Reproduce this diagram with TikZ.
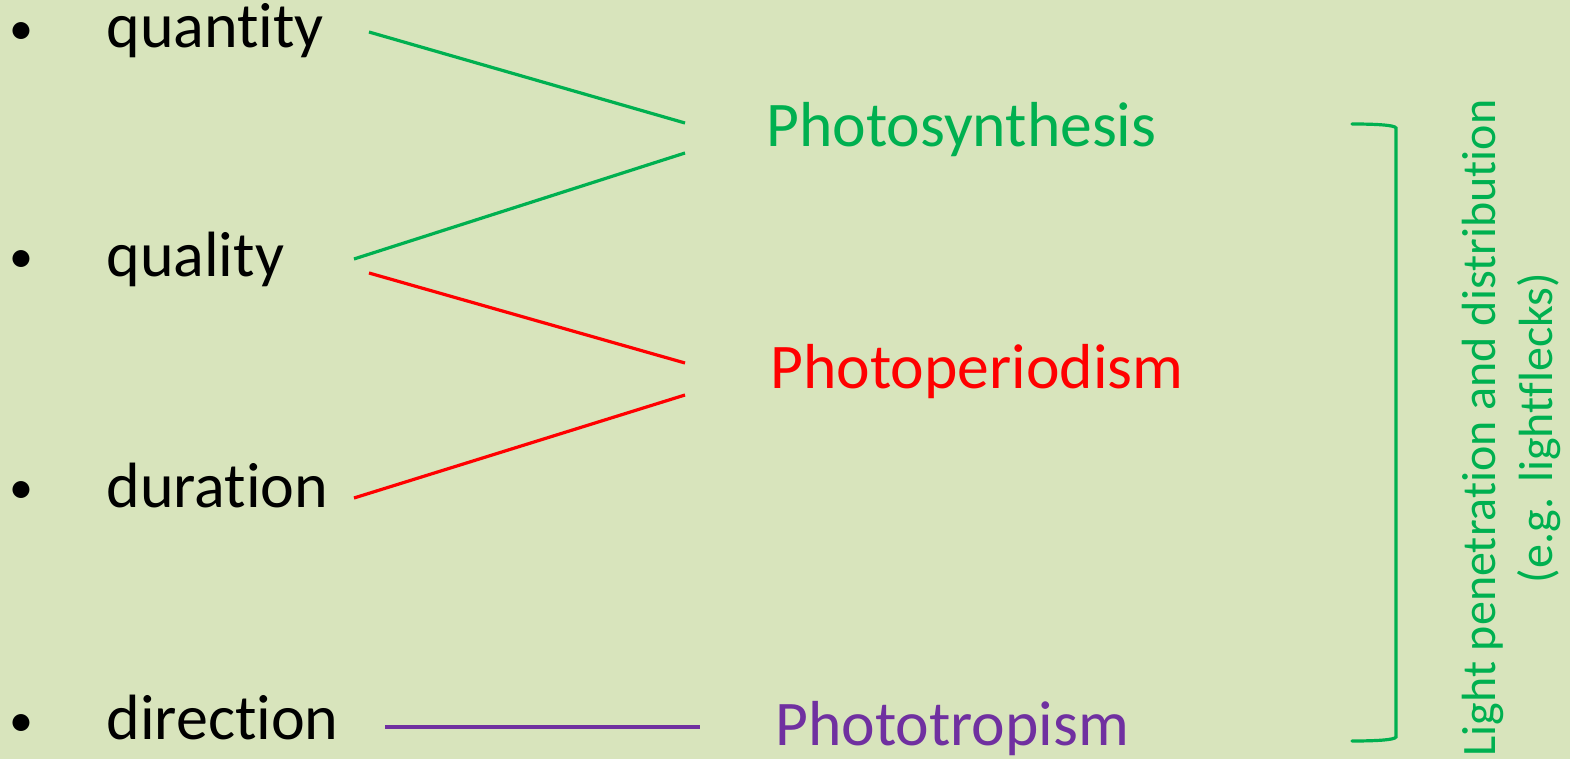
\documentclass[tikz,border=0pt]{standalone}
\usepackage{fontspec}
\setmainfont{Carlito}[Ligatures={NoCommon,NoRequired,NoContextual}]
\definecolor{bg}{HTML}{D8E4BC}
\definecolor{pgreen}{HTML}{00B050}
\definecolor{pred}{HTML}{FF0000}
\definecolor{ppurple}{HTML}{7030A0}
\begin{document}
\begin{tikzpicture}[x=0.5pt,y=-0.5pt,
  item/.style={anchor=base west,inner sep=0pt,font=\fontsize{32}{38}\selectfont},
  bul/.style={anchor=base,inner sep=0pt,font=\fontsize{24}{28}\selectfont},
  effect/.style={anchor=base west,inner sep=0pt,font=\fontsize{31.8}{38}\selectfont},
  conn/.style={line width=1.6pt}]
\fill[bg] (0,0) rectangle (1570,759);
\useasboundingbox (0,0) rectangle (1570,759);
% bullets and items
\node[bul] (b1) at (21,45) {•};
\node[bul] (b2) at (21,273) {•};
\node[bul] (b3) at (21,503) {•};
\node[bul] (b4) at (21,736) {•};
\node[item] (quantity) at (106,48) {quantity};
\node[item] (quality) at (106,277) {quality};
\node[item] (duration) at (106,507) {duration};
\node[item] (direction) at (106,739) {direction};
% effects
\node[effect,text=pgreen] (photosyn) at (766,147) {Photosynthesis};
\node[effect,text=pred] (photoper) at (770,389) {Photoperiodism};
\node[effect,text=ppurple] (phototro) at (775,745) {Phototropism};
% connector ends
\coordinate (qa) at (369,32);
\coordinate (ps1) at (685,123);
\coordinate (ql1) at (354,259);
\coordinate (ps2) at (685,153);
\coordinate (ql2) at (369,273);
\coordinate (pp1) at (685,363);
\coordinate (du) at (354,498);
\coordinate (pp2) at (685,395);
\coordinate (di) at (385,727);
\coordinate (pt) at (700,727);
\draw[conn,pgreen] (qa) -- (ps1);
\draw[conn,pgreen] (ql1) -- (ps2);
\draw[conn,pred] (ql2) -- (pp1);
\draw[conn,pred] (du) -- (pp2);
\draw[conn,ppurple] (di) -- (pt);
% bracket
\coordinate (bt) at (1352,124);
\coordinate (bb) at (1352,741);
\draw[conn,pgreen,line cap=round] (bt) .. controls (1375,124) and (1395,125) .. (1396,128)
  -- (1396,737) .. controls (1395,740) and (1375,741) .. (bb);
% rotated label
\node[rotate=90,align=center,inner sep=0pt,text=pgreen,font=\fontsize{24}{28.5}\selectfont] (lightlbl) at (1511,428)
  {Light penetration and distribution\\(e.g. lightflecks)};
\end{tikzpicture}
\end{document}
